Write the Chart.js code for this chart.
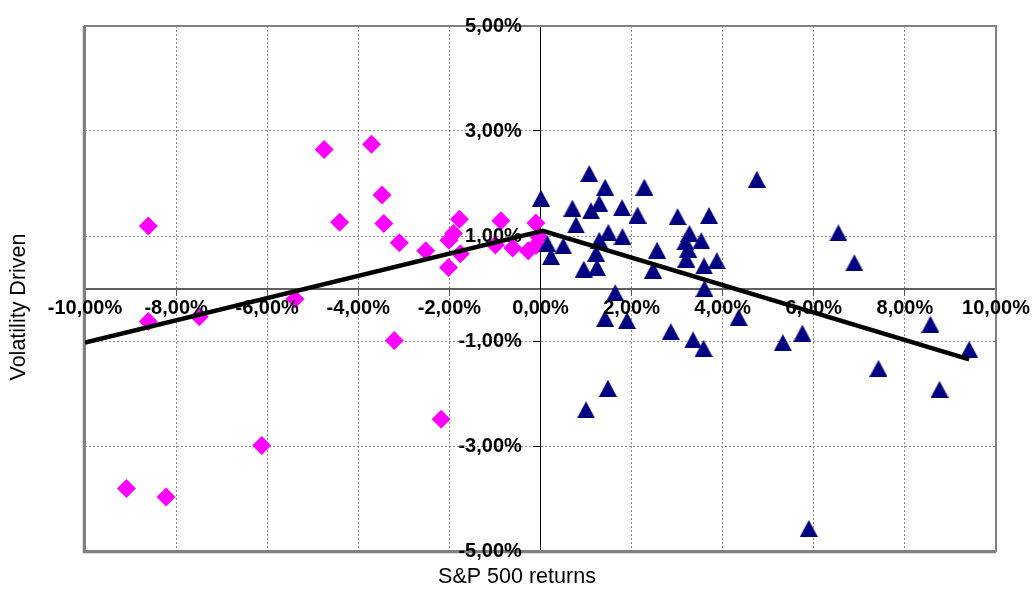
<!DOCTYPE html>
<html>
<head>
<meta charset="utf-8">
<script src="https://cdn.jsdelivr.net/npm/chart.js@4"></script>
<style>
html,body{margin:0;padding:0;background:#fff;}
#c{display:block;}
</style>
</head>
<body>
<canvas id="c" width="1035" height="590"></canvas>
<script>
// ---- data (percent units) ----
const downX = [-8.61,-4.75,-3.71,-3.48,-4.41,-3.44,-3.10,-2.52,-2.02,-2.01,-1.91,-1.78,-1.76,-0.87,-0.99,-0.61,-0.27,-0.10,-0.10,-0.03,-5.39,-8.61,-7.49,-3.21,-2.18,-6.12,-9.09,-8.22];
const downY = [1.19,2.65,2.75,1.78,1.26,1.24,0.87,0.72,0.40,0.92,1.05,1.32,0.66,1.29,0.83,0.77,0.72,1.25,0.82,0.98,-0.20,-0.63,-0.54,-0.99,-2.49,-2.99,-3.81,-3.97];
const upX = [0.01,1.07,1.42,2.28,4.75,0.70,1.29,1.11,1.79,2.13,3.01,3.70,0.78,1.49,1.80,1.29,0.50,0.23,0.15,1.22,0.95,1.24,1.64,1.42,1.90,2.56,2.47,3.27,3.18,3.24,3.20,3.53,3.59,3.87,3.60,2.86,3.35,3.58,4.35,5.32,5.75,6.54,6.89,7.42,8.56,8.76,9.41,1.48,1.00,5.89];
const upY = [1.72,2.19,1.93,1.93,2.08,1.53,1.62,1.48,1.54,1.40,1.37,1.39,1.21,1.07,0.99,0.92,0.81,0.61,0.85,0.67,0.37,0.40,-0.08,-0.57,-0.61,0.73,0.35,1.05,0.89,0.75,0.56,0.91,0.43,0.53,0.00,-0.82,-0.98,-1.14,-0.55,-1.03,-0.85,1.06,0.49,-1.52,-0.68,-1.92,-1.16,-1.90,-2.31,-4.57];
const trendX = [-10.0, 0.05, 9.41];
const trendY = [-1.03, 1.10, -1.35];
const xTicks = [-10,-8,-6,-4,-2,0,2,4,6,8,10];
const yTicks = [-5,-3,-1,1,3,5];
const xTitle = 'S&P 500 returns';
const yTitle = 'Volatility Driven';

const toPts = (xs, ys) => xs.map((x, i) => ({x: x, y: ys[i]}));
const fmt = v => v.toFixed(2).replace('.', ',') + '%';
const FONT = "'Liberation Sans', Arial, sans-serif";

// triangle marker (bbox-centred)
function makeTri(w, h, color) {
  const cv = document.createElement('canvas');
  cv.width = w; cv.height = h;
  const g = cv.getContext('2d');
  g.fillStyle = color;
  g.beginPath();
  g.moveTo(w / 2, 0);
  g.lineTo(w, h);
  g.lineTo(0, h);
  g.closePath();
  g.fill();
  return cv;
}
const triStyle = makeTri(18, 17, '#000080');

const framePlugin = {
  id: 'frame',
  beforeDatasetsDraw(chart) {
    const {ctx, chartArea: a} = chart;
    ctx.save();
    ctx.strokeStyle = '#808080';
    ctx.lineWidth = 2;
    ctx.strokeRect(a.left, a.top, a.right - a.left, a.bottom - a.top);
    ctx.lineWidth = 1.5;
    ctx.beginPath();
    ctx.moveTo(a.left - 1.5, a.top);
    ctx.lineTo(a.left - 1.5, a.bottom + 1.5);
    ctx.lineTo(a.right, a.bottom + 1.5);
    ctx.stroke();
    ctx.restore();
  },
  afterDraw(chart) {
    const {ctx} = chart;
    ctx.save();
    ctx.fillStyle = '#000';
    ctx.font = '21.5px ' + FONT;
    ctx.textAlign = 'center';
    ctx.textBaseline = 'middle';
    ctx.fillText(xTitle, 517, 577);
    ctx.translate(19, 307);
    ctx.rotate(-Math.PI / 2);
    ctx.fillText(yTitle, 0, 0);
    ctx.restore();
  }
};

const tickFont = {family: FONT, size: 20, weight: 'bold'};

new Chart(document.getElementById('c'), {
  type: 'scatter',
  data: {
    datasets: [
      {
        label: 'trend',
        data: toPts(trendX, trendY),
        showLine: true,
        borderColor: '#000',
        borderWidth: 4.5,
        pointRadius: 0,
        fill: false,
        order: 0
      },
      {
        label: 'down',
        data: toPts(downX, downY),
        pointStyle: 'rectRot',
        pointRadius: 9.5,
        pointHoverRadius: 9.5,
        backgroundColor: '#FF00FF',
        borderColor: '#FF00FF',
        borderWidth: 0,
        order: 2
      },
      {
        label: 'up',
        data: toPts(upX, upY),
        pointStyle: triStyle,
        pointRadius: 9,
        backgroundColor: '#000080',
        borderColor: '#000080',
        order: 1
      }
    ]
  },
  options: {
    responsive: false,
    animation: false,
    events: [],
    layout: {padding: {left: 85, right: 39, top: 26, bottom: 39}},
    plugins: {legend: {display: false}, tooltip: {enabled: false}, title: {display: false}},
    scales: {
      x: {
        type: 'linear',
        position: {y: 0},
        min: -10, max: 10,
        afterBuildTicks: s => { s.ticks = xTicks.map(v => ({value: v})); },
        grid: {color: '#8c8c8c', lineWidth: 1, tickLength: 6, tickColor: '#555', tickWidth: 1, z: -1},
        border: {display: true, color: '#606060', width: 2, dash: [2, 2]},
        ticks: {
          autoSkip: false, maxRotation: 0, padding: 2, z: 1,
          color: '#000',
          font: tickFont,
          callback: v => fmt(v)
        }
      },
      y: {
        type: 'linear',
        position: {x: 0},
        min: -5, max: 5,
        afterBuildTicks: s => { s.ticks = yTicks.map(v => ({value: v})); },
        grid: {color: '#8c8c8c', lineWidth: 1, tickLength: 7, tickColor: '#000', tickWidth: 1, z: -1},
        border: {display: true, color: '#000', width: 1, dash: [2, 2]},
        ticks: {display: false}
      },
      yLabels: {
        type: 'linear',
        axis: 'y',
        position: {x: -0.41},
        min: -5, max: 5,
        afterBuildTicks: s => { s.ticks = yTicks.map(v => ({value: v})); },
        grid: {drawOnChartArea: false, drawTicks: false},
        border: {display: false},
        ticks: {
          z: 1,
          color: '#000',
          font: tickFont,
          callback: v => fmt(v)
        }
      }
    }
  },
  plugins: [framePlugin]
});
</script>
</body>
</html>
